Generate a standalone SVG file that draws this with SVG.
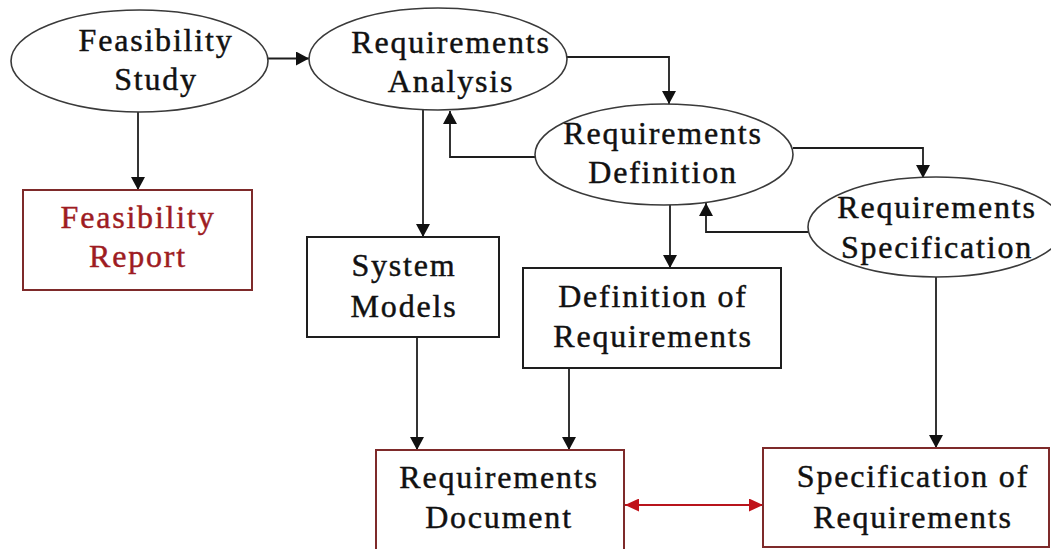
<svg xmlns="http://www.w3.org/2000/svg" width="1051" height="549" viewBox="0 0 1051 549">
  <style>
    .ell { fill: #ffffff; stroke: #3a3a3a; stroke-width: 1.6; }
    .box { fill: #ffffff; stroke: #1e1e1e; stroke-width: 2; }
    .rbox { fill: #ffffff; stroke: #7e2a2a; stroke-width: 2; }
    .lbl { font-family: "Liberation Serif", "Times New Roman", serif; font-size: 32px; letter-spacing: 1.8px; text-anchor: middle; fill: #111111; stroke: #111111; stroke-width: 0.45px; }
    .red { fill: #9e1c22; stroke: #9e1c22; }
    .wire { fill: none; stroke: #1e1e1e; stroke-width: 1.8; }
    .rwire { fill: none; stroke: #b8141c; stroke-width: 1.8; }
  </style>
  <defs>
    <marker id="ah" markerUnits="userSpaceOnUse" markerWidth="14" markerHeight="14" refX="13" refY="7" orient="auto">
      <path d="M0,0 L13,7 L0,14 z" fill="#111111"/>
    </marker>
    <marker id="rah" markerUnits="userSpaceOnUse" markerWidth="15" markerHeight="13" refX="14" refY="6.5" orient="auto-start-reverse">
      <path d="M0,0 L14,6.5 L0,13 z" fill="#c0121a"/>
    </marker>
  </defs>
  <rect width="1051" height="549" fill="#ffffff"/>

  <!-- connectors -->
  <g id="connectors">
    <path class="wire" d="M268,58.5 H309" marker-end="url(#ah)"/>
    <path class="wire" d="M138,112 V190" marker-end="url(#ah)"/>
    <path class="wire" d="M567,57 H669 V104" marker-end="url(#ah)"/>
    <path class="wire" d="M535,157 H450 V111" marker-end="url(#ah)"/>
    <path class="wire" d="M423,110 V237" marker-end="url(#ah)"/>
    <path class="wire" d="M793,148 H923 V178" marker-end="url(#ah)"/>
    <path class="wire" d="M808,232 H706 V203" marker-end="url(#ah)"/>
    <path class="wire" d="M670,205 V268" marker-end="url(#ah)"/>
    <path class="wire" d="M417,337 V450" marker-end="url(#ah)"/>
    <path class="wire" d="M569,368 V450" marker-end="url(#ah)"/>
    <path class="wire" d="M936,277 V448" marker-end="url(#ah)"/>
    <path class="rwire" d="M625,505 H763" marker-start="url(#rah)" marker-end="url(#rah)"/>
  </g>

  <g id="feasibility-study">
    <ellipse class="ell" cx="139.5" cy="61" rx="128.5" ry="51"/>
    <text class="lbl" x="156" y="51">Feasibility</text>
    <text class="lbl" x="156" y="89.5">Study</text>
  </g>

  <g id="requirements-analysis">
    <ellipse class="ell" cx="438" cy="59" rx="129" ry="51"/>
    <text class="lbl" x="451" y="53">Requirements</text>
    <text class="lbl" x="451" y="92">Analysis</text>
  </g>

  <g id="requirements-definition">
    <ellipse class="ell" cx="664" cy="154.5" rx="129" ry="50.5"/>
    <text class="lbl" x="663" y="144">Requirements</text>
    <text class="lbl" x="663" y="183">Definition</text>
  </g>

  <g id="requirements-specification">
    <ellipse class="ell" cx="936" cy="227" rx="128" ry="50"/>
    <text class="lbl" x="937" y="218">Requirements</text>
    <text class="lbl" x="937" y="258">Specification</text>
  </g>

  <g id="feasibility-report">
    <rect class="rbox" x="23" y="190" width="229" height="100"/>
    <text class="lbl red" x="138" y="228">Feasibility</text>
    <text class="lbl red" x="138" y="266.5">Report</text>
  </g>

  <g id="system-models">
    <rect class="box" x="307" y="237" width="192" height="100"/>
    <text class="lbl" x="404" y="276">System</text>
    <text class="lbl" x="404" y="316.5">Models</text>
  </g>

  <g id="definition-of-requirements">
    <rect class="box" x="523" y="268" width="258" height="100"/>
    <text class="lbl" x="653" y="307">Definition of</text>
    <text class="lbl" x="653" y="347">Requirements</text>
  </g>

  <g id="requirements-document">
    <rect class="rbox" x="376" y="450" width="248" height="104"/>
    <text class="lbl" x="499" y="488">Requirements</text>
    <text class="lbl" x="499" y="528">Document</text>
  </g>

  <g id="specification-of-requirements">
    <rect class="rbox" x="763" y="448" width="286" height="99"/>
    <text class="lbl" x="913" y="487">Specification of</text>
    <text class="lbl" x="913" y="528">Requirements</text>
  </g>
</svg>
